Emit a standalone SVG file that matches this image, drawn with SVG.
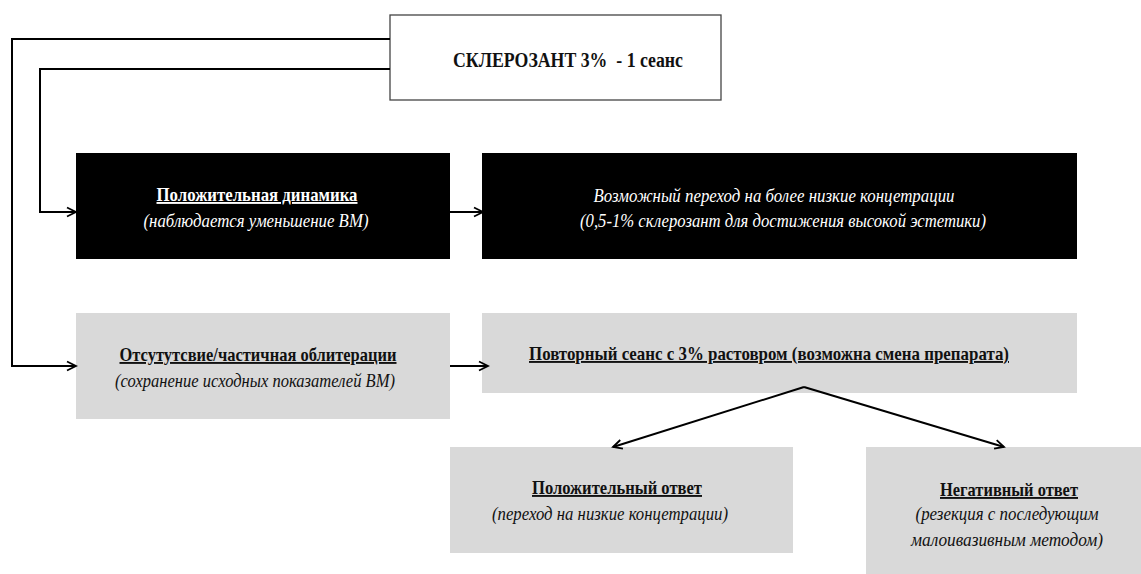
<svg xmlns="http://www.w3.org/2000/svg" width="1141" height="574" viewBox="0 0 1141 574">
<style>
text{font-family:"Liberation Serif","DejaVu Serif","Times New Roman",serif;text-anchor:middle}
.b{font-weight:bold;font-size:19px;text-decoration:underline}
.t{font-weight:bold;font-size:20px}
.i{font-style:italic;font-size:18px}
.w{fill:#ffffff}
.k{fill:#111111}
.dark{fill:#000000}
.grey{fill:#d9d9d9}
.conn{fill:none;stroke:#000;stroke-width:2}
</style>
<defs>
<marker id="arr" markerWidth="12" markerHeight="12" refX="10" refY="5" orient="auto" markerUnits="userSpaceOnUse" viewBox="0 0 12 10">
<path d="M1,0.5 L10,5 L1,9.5" fill="none" stroke="#000" stroke-width="1.8"/>
</marker>
</defs>
<rect width="1141" height="574" fill="#fff"/>
<g id="n-top">
<rect x="390" y="15" width="331" height="85" fill="#fff" stroke="#444" stroke-width="1.3"/>
<text class="t k" x="568" y="67" textLength="230" lengthAdjust="spacingAndGlyphs" xml:space="preserve">СКЛЕРОЗАНТ 3%  - 1 сеанс</text>
</g>
<g id="n-pos">
<rect class="dark" x="76" y="153" width="374" height="106"/>
<text class="b w" x="257" y="201" textLength="201" lengthAdjust="spacingAndGlyphs">Положительная динамика</text>
<text class="i w" x="256" y="227" textLength="225" lengthAdjust="spacingAndGlyphs">(наблюдается уменьшение ВМ)</text>
</g>
<g id="n-low">
<rect class="dark" x="482" y="153" width="595" height="106"/>
<text class="i w" x="774" y="202" textLength="361" lengthAdjust="spacingAndGlyphs">Возможный переход на более низкие концетрации</text>
<text class="i w" x="783" y="227" textLength="406" lengthAdjust="spacingAndGlyphs">(0,5-1% склерозант для достижения высокой эстетики)</text>
</g>
<g id="n-abs">
<rect class="grey" x="76" y="313" width="374" height="106"/>
<text class="b k" x="258" y="361" textLength="277" lengthAdjust="spacingAndGlyphs">Отсутутсвие/частичная облитерации</text>
<text class="i k" x="255" y="387" textLength="280" lengthAdjust="spacingAndGlyphs">(сохранение исходных показателей ВМ)</text>
</g>
<g id="n-rep">
<rect class="grey" x="482" y="313" width="595" height="80"/>
<text class="b k" x="769" y="360" textLength="480" lengthAdjust="spacingAndGlyphs">Повторный сеанс с 3% растовром (возможна смена препарата)</text>
</g>
<g id="n-posans">
<rect class="grey" x="450" y="447" width="343" height="106"/>
<text class="b k" x="617" y="494" textLength="170" lengthAdjust="spacingAndGlyphs">Положительный ответ</text>
<text class="i k" x="610" y="520" textLength="236" lengthAdjust="spacingAndGlyphs">(переход на низкие концетрации)</text>
</g>
<g id="n-neg">
<rect class="grey" x="866" y="447" width="275" height="127"/>
<text class="b k" x="1009" y="496" textLength="138" lengthAdjust="spacingAndGlyphs">Негативный ответ</text>
<text class="i k" x="1007" y="520" textLength="183" lengthAdjust="spacingAndGlyphs">(резекция с последующим</text>
<text class="i k" x="1007" y="546" textLength="192" lengthAdjust="spacingAndGlyphs">малоивазивным методом)</text>
</g>
<g id="connectors">
<polyline class="conn" points="390,39 12,39 12,366 76,366" marker-end="url(#arr)"/>
<polyline class="conn" points="390,69 40,69 40,212 76,212" marker-end="url(#arr)"/>
<line class="conn" x1="450" y1="212" x2="483" y2="212" marker-end="url(#arr)"/>
<line class="conn" x1="450" y1="366" x2="488" y2="366" marker-end="url(#arr)"/>
<line class="conn" x1="804" y1="387" x2="613" y2="447" marker-end="url(#arr)"/>
<line class="conn" x1="804" y1="387" x2="1004" y2="447" marker-end="url(#arr)"/>
</g>
</svg>
